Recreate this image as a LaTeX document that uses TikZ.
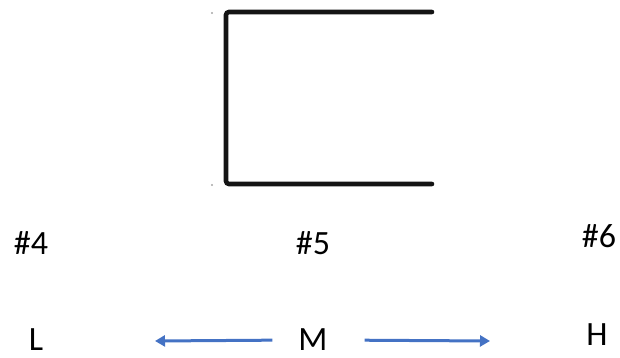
\documentclass[tikz,border=0pt]{standalone}
\usepackage{fontspec}
\setmainfont{Carlito}
\usepackage{tikz}
\usetikzlibrary{arrows.meta}
\definecolor{figline}{RGB}{20,20,20}
\definecolor{figarrow}{RGB}{68,114,196}
\tikzset{
  brk/.style ={draw=figline, line width=4.6pt, rounded corners=3pt, line cap=round},
  lab/.style ={font=\fontsize{34}{40}\selectfont, inner sep=2pt},
  ptr/.style ={draw=figarrow, line width=3pt, -{Triangle[length=10pt,width=11pt]}},
}
\begin{document}
\begin{tikzpicture}[x=1pt,y=-1pt]
  \useasboundingbox (0,0) rectangle (620,358);
  \draw[brk] (432,12) -- (226,12) -- (226,184) -- (432,184);
  \fill[black!35] (212,13) circle (1.2);
  \fill[black!35] (212,185) circle (1.2);
  \node[lab] (t4) at (31,243) {\#4};
  \node[lab] (t5) at (313,243) {\#5};
  \node[lab] (t6) at (599,236) {\#6};
  \node[lab] (lo) at (36,340) {L};
  \node[lab] (mid) at (313,340) {M};
  \node[lab] (hi) at (597,335) {H};
  \coordinate (lend) at (155,341);
  \coordinate (rend) at (490,341);
  \draw[ptr,shorten <=24pt] (mid.west) -- (lend);
  \draw[ptr,shorten <=35pt] (mid.east) -- (rend);
\end{tikzpicture}
\end{document}
